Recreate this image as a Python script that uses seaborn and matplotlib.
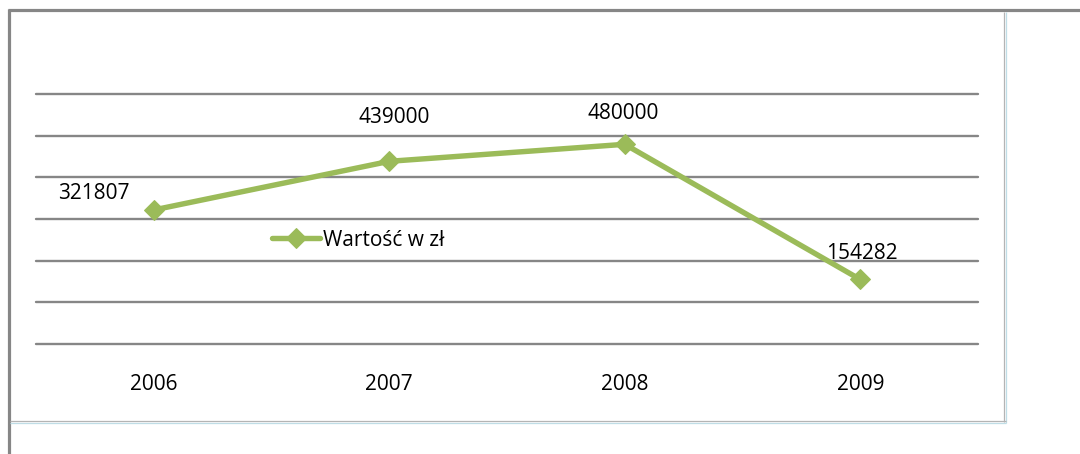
"""
Wykres liniowy - wartość w zł w latach 2006-2009
Output: out.png
"""

import matplotlib.pyplot as plt
from matplotlib.lines import Line2D
import pandas as pd
import seaborn as sns

# Dane
years = ['2006', '2007', '2008', '2009']
values = [321807, 439000, 480000, 154282]
series_name = 'Wartość w zł'

# przesunięcia etykiet danych (px) względem punktów
label_offsets = [(-60, 16), (5, 44), (-2, 31), (2, 26)]

green = '#9BBB59'
grid_gray = '#868686'

df = pd.DataFrame({'rok': years, 'wartosc': values})

sns.set_style('white')
plt.rcParams['font.family'] = ['Open Sans', 'DejaVu Sans']
plt.rcParams['text.color'] = 'black'

W, H = 1080, 454
fig = plt.figure(figsize=(W / 100, H / 100), dpi=100)
ax = fig.add_axes([36 / W, 1 - 343.5 / H, 942 / W, 249 / H])

sns.lineplot(data=df, x='rok', y='wartosc', ax=ax, color=green, linewidth=3.9,
             marker='D', markersize=10, markeredgecolor=green, label=series_name,
             sort=False)

ax.set_xlim(-0.5, 3.5)
ax.set_ylim(0, 600000)
ax.set_yticks(range(0, 600001, 100000))
ax.yaxis.grid(True, color=grid_gray, linewidth=1.7)
ax.xaxis.grid(False)
ax.set_axisbelow(True)
for gl in ax.get_ygridlines():
    gl.set_clip_on(False)
ax.set_yticklabels([])
ax.tick_params(axis='y', length=0)
ax.tick_params(axis='x', length=0, pad=22, labelsize=15, labelcolor='black')
ax.set_xlabel('')
ax.set_ylabel('')
for s in ax.spines.values():
    s.set_visible(False)

# etykiety danych
for i, (v, off) in enumerate(zip(values, label_offsets)):
    ax.annotate(str(v), (i, v), xytext=off, textcoords='offset pixels',
                ha='center', va='center', fontsize=15, color='black')

# legenda wewnątrz obszaru wykresu
ax.legend(loc='center left', bbox_to_anchor=(272 / W, 1 - 240 / H),
          bbox_transform=fig.transFigure, frameon=False, fontsize=15,
          labelcolor='black', handlelength=2.3, handletextpad=0.15,
          borderpad=0, borderaxespad=0)

# ramki (zewnętrzna szara, wewnętrzna jasna)
def fig_line(xs, ys, color, lw):
    fig.add_artist(Line2D([x / W for x in xs], [1 - y / H for y in ys],
                          color=color, linewidth=lw, solid_capstyle='butt'))

fig_line([9, 9], [9, H], grid_gray, 2.3)
fig_line([8, W], [10, 10], grid_gray, 2.3)
fig_line([1004, 1004], [12, 422], '#b4b4b4', 0.9)
fig_line([1006, 1006], [12, 423], '#bfdde6', 0.9)
fig_line([10, 1006], [421, 421], '#b4b4b4', 0.9)
fig_line([10, 1006], [423, 423], '#bfdde6', 0.9)

plt.savefig('out.png', dpi=100, facecolor='white')
